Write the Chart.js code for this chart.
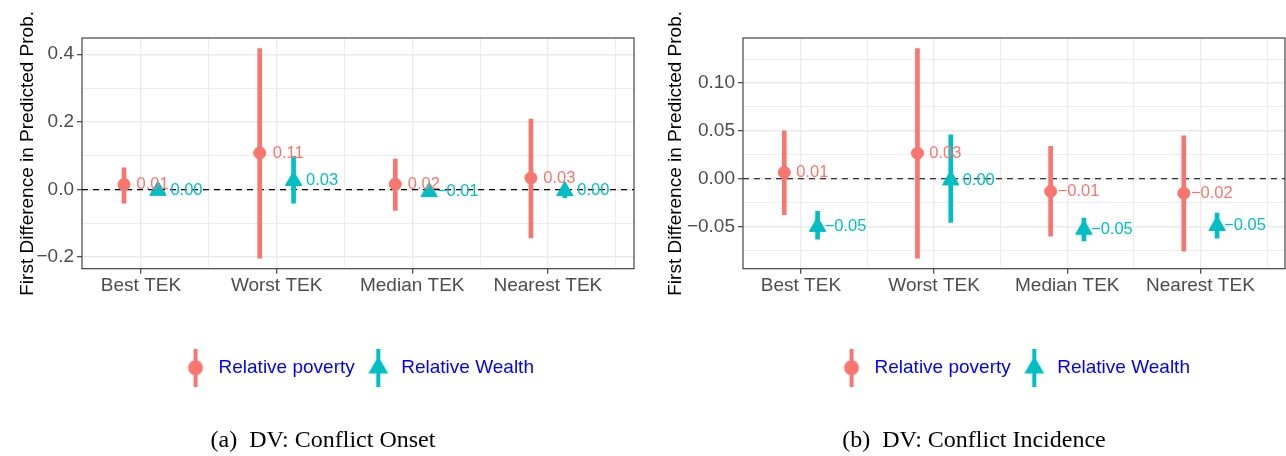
<!DOCTYPE html>
<html>
<head>
<meta charset="utf-8">
<script src="https://cdn.jsdelivr.net/npm/chart.js@4.4.1/dist/chart.umd.min.js"></script>
<style>
  body { margin: 0; background: #fff; overflow: hidden; }
  .wrap { display: flex; width: 1286px; height: 456px; }
  .panel { position: relative; width: 643px; height: 456px; flex: 0 0 643px; }
</style>
</head>
<body>
<div class="wrap">
  <div class="panel"><canvas id="onsetChart"></canvas></div>
  <div class="panel"><canvas id="incidenceChart"></canvas></div>
</div>
<script>
const categories = ['Best TEK', 'Worst TEK', 'Median TEK', 'Nearest TEK'];
const seriesNames = ['Relative poverty', 'Relative Wealth'];

// (a) DV: Conflict Onset
const onsetPoverty = [0.0147, 0.108, 0.016, 0.034];
const onsetPovertyLow = [-0.040, -0.203, -0.062, -0.143];
const onsetPovertyHigh = [0.064, 0.417, 0.090, 0.208];
const onsetWealth = [-0.003, 0.026, -0.007, -0.004];
const onsetWealthLow = [-0.012, -0.040, -0.018, -0.024];
const onsetWealthHigh = [0.006, 0.098, 0.003, 0.005];
const onsetYTicks = [-0.2, 0, 0.2, 0.4];
const onsetYTickLabels = ['\u22120.2', '0.0', '0.2', '0.4'];
const onsetYMinor = [-0.1, 0.1, 0.3];

// (b) DV: Conflict Incidence
const incidencePoverty = [0.0066, 0.0267, -0.0132, -0.0152];
const incidencePovertyLow = [-0.0375, -0.083, -0.060, -0.0757];
const incidencePovertyHigh = [0.050, 0.136, 0.0337, 0.0448];
const incidenceWealth = [-0.050, -0.0015, -0.053, -0.049];
const incidenceWealthLow = [-0.063, -0.0455, -0.065, -0.062];
const incidenceWealthHigh = [-0.034, 0.0458, -0.041, -0.036];
const incidenceYTicks = [-0.05, 0, 0.05, 0.10];
const incidenceYTickLabels = ['\u22120.05', '0.00', '0.05', '0.10'];
const incidenceYMinor = [-0.075, -0.025, 0.025, 0.075, 0.125];

const xMinor = [1.5, 2.5, 3.5, 4.5];

const povertyColor = '#F8766D';
const wealthColor = '#00BFC4';
const gridColor = '#EBEBEB';
const dodge = 0.125;
const labelNudge = 0.21;
const xMin = 0.565, xMax = 4.635;
const sans = '"Liberation Sans", Arial, sans-serif';

Chart.defaults.font.family = sans;

function fmt(v) {
    const s = Math.abs(v).toFixed(2);
    if (s === '0.00') return s;
    return v < 0 ? '\u2212' + s : s;
}

function legendGlyph(color, shape) {
    const c = document.createElement('canvas');
    c.width = 24;
    c.height = 38;
    const g = c.getContext('2d');
    g.fillStyle = color;
    g.fillRect(10, 0, 4, 38);
    g.beginPath();
    if (shape === 'circle') {
        g.arc(12, 19, 7.5, 0, Math.PI * 2);
    } else {
        const r = 11.5;
        g.moveTo(12, 19 - r);
        g.lineTo(12 + r * 0.866, 19 + r / 2);
        g.lineTo(12 - r * 0.866, 19 + r / 2);
        g.closePath();
    }
    g.fill();
    return c;
}

const glyphs = [legendGlyph(povertyColor, 'circle'), legendGlyph(wealthColor, 'triangle')];

function buildPanel(canvasId, cfg) {
    const ctx = document.getElementById(canvasId);
    if (!ctx) return;

    // ggplot style 5% expansion of the interval range
    const lo = Math.min(...cfg.povertyLow, ...cfg.wealthLow);
    const hi = Math.max(...cfg.povertyHigh, ...cfg.wealthHigh);
    const pad = (hi - lo) * 0.05;

    const series = [
        { values: cfg.poverty, color: povertyColor, shift: -dodge },
        { values: cfg.wealth, color: wealthColor, shift: dodge }
    ];

    const panelPlugin = {
        id: 'panelExtras',
        beforeDatasetsDraw(chart) {
            const { ctx, chartArea, scales } = chart;
            const y0 = scales.y.getPixelForValue(0);
            ctx.save();
            ctx.strokeStyle = '#000';
            ctx.lineWidth = 1.2;
            ctx.setLineDash([6, 5]);
            ctx.beginPath();
            ctx.moveTo(chartArea.left, y0);
            ctx.lineTo(chartArea.right, y0);
            ctx.stroke();
            ctx.restore();
        },
        afterDatasetsDraw(chart) {
            const { ctx, scales } = chart;
            ctx.save();
            ctx.font = '16.5px ' + sans;
            ctx.textAlign = 'center';
            ctx.textBaseline = 'middle';
            series.forEach(s => {
                ctx.fillStyle = s.color;
                s.values.forEach((v, i) => {
                    ctx.fillText(fmt(v), scales.x.getPixelForValue(i + 1 + s.shift + labelNudge), scales.y.getPixelForValue(v));
                });
            });
            ctx.restore();
        },
        afterDraw(chart) {
            const { ctx, chartArea } = chart;
            ctx.save();
            ctx.strokeStyle = '#333333';
            ctx.lineWidth = 1.1;
            ctx.strokeRect(chartArea.left, chartArea.top, chartArea.width, chartArea.height);
            ctx.restore();
        }
    };

    const minorAware = {
        color: gridColor,
        lineWidth: c => (c.tick && c.tick.minor ? 0.9 : 1.4),
        tickColor: c => (c.tick && c.tick.minor ? 'rgba(0,0,0,0)' : '#333333'),
        tickLength: 5,
        tickWidth: 1.1
    };

    new Chart(ctx, {
        type: 'scatter',
        data: {
            datasets: [
                {
                    label: seriesNames[0],
                    data: cfg.poverty.map((v, i) => ({ x: i + 1 - dodge, y: v })),
                    pointStyle: 'circle',
                    pointRadius: 6,
                    pointBorderWidth: 1,
                    pointBackgroundColor: povertyColor,
                    pointBorderColor: povertyColor,
                    order: 1
                },
                {
                    label: seriesNames[1],
                    data: cfg.wealth.map((v, i) => ({ x: i + 1 + dodge, y: v })),
                    pointStyle: 'triangle',
                    pointRadius: 9.5,
                    pointBorderWidth: 1,
                    pointBackgroundColor: wealthColor,
                    pointBorderColor: wealthColor,
                    order: 1
                },
                {
                    type: 'bar',
                    data: cfg.povertyLow.map((l, i) => ({ x: i + 1 - dodge, y: [l, cfg.povertyHigh[i]] })),
                    backgroundColor: povertyColor,
                    barThickness: 4,
                    maxBarThickness: 4,
                    grouped: false,
                    order: 2
                },
                {
                    type: 'bar',
                    data: cfg.wealthLow.map((l, i) => ({ x: i + 1 + dodge, y: [l, cfg.wealthHigh[i]] })),
                    backgroundColor: wealthColor,
                    barThickness: 4,
                    maxBarThickness: 4,
                    grouped: false,
                    order: 2
                }
            ]
        },
        options: {
            responsive: true,
            maintainAspectRatio: false,
            animation: false,
            events: [],
            layout: { padding: cfg.padding, autoPadding: false },
            scales: {
                x: {
                    type: 'linear',
                    min: xMin,
                    max: xMax,
                    offset: false,
                    border: { display: false },
                    grid: Object.assign({ offset: false }, minorAware),
                    afterBuildTicks: scale => {
                        scale.ticks = categories.map((c, i) => ({ value: i + 1 }))
                            .concat(xMinor.map(v => ({ value: v, minor: true })))
                            .sort((a, b) => a.value - b.value);
                    },
                    afterFit: scale => {
                        scale.height = 79.5;
                        scale.paddingLeft = 0;
                        scale.paddingRight = 0;
                    },
                    ticks: {
                        autoSkip: false,
                        maxRotation: 0,
                        minRotation: 0,
                        padding: 1,
                        color: '#4D4D4D',
                        font: { size: 19 },
                        callback: (value, index, ticks) => (ticks[index].minor ? '' : categories[Math.round(value) - 1])
                    }
                },
                y: {
                    type: 'linear',
                    min: lo - pad,
                    max: hi + pad,
                    border: { display: false },
                    grid: minorAware,
                    afterBuildTicks: scale => {
                        scale.ticks = cfg.yTicks.map(v => ({ value: v }))
                            .concat(cfg.yMinor.map(v => ({ value: v, minor: true })))
                            .sort((a, b) => a.value - b.value);
                    },
                    afterFit: scale => { scale.width = cfg.yAxisWidth; },
                    ticks: {
                        autoSkip: false,
                        padding: 3,
                        color: '#4D4D4D',
                        font: { size: 19 },
                        callback: (value, index, ticks) => (ticks[index].minor ? '' : cfg.yTickLabels[cfg.yTicks.indexOf(value)])
                    },
                    title: {
                        display: true,
                        text: 'First Difference in Predicted Prob.',
                        color: '#000',
                        font: { size: 19 },
                        padding: { top: cfg.yTitlePad, bottom: 0 }
                    }
                }
            },
            plugins: {
                tooltip: { enabled: false },
                legend: {
                    position: 'bottom',
                    fullSize: false,
                    labels: {
                        usePointStyle: true,
                        pointStyleWidth: 27,
                        padding: 10,
                        color: '#0000FF',
                        font: { size: 19 },
                        generateLabels: () => seriesNames.map((name, i) => ({
                            text: name,
                            pointStyle: glyphs[i],
                            fillStyle: i === 0 ? povertyColor : wealthColor,
                            strokeStyle: i === 0 ? povertyColor : wealthColor,
                            fontColor: '#0000FF',
                            lineWidth: 0,
                            hidden: false,
                            datasetIndex: i
                        }))
                    }
                },
                title: {
                    display: true,
                    position: 'bottom',
                    text: cfg.caption,
                    color: '#000',
                    font: { family: '"Liberation Serif", "Times New Roman", serif', size: 24, weight: 'normal' },
                    padding: { top: 39, bottom: 1 }
                }
            }
        },
        plugins: [panelPlugin]
    });
}

buildPanel('onsetChart', {
    poverty: onsetPoverty, povertyLow: onsetPovertyLow, povertyHigh: onsetPovertyHigh,
    wealth: onsetWealth, wealthLow: onsetWealthLow, wealthHigh: onsetWealthHigh,
    yTicks: onsetYTicks, yTickLabels: onsetYTickLabels, yMinor: onsetYMinor,
    caption: '(a)  DV: Conflict Onset',
    padding: { top: 38, left: 12, right: 9, bottom: 0 },
    yAxisWidth: 70,
    yTitlePad: 4
});

buildPanel('incidenceChart', {
    poverty: incidencePoverty, povertyLow: incidencePovertyLow, povertyHigh: incidencePovertyHigh,
    wealth: incidenceWealth, wealthLow: incidenceWealthLow, wealthHigh: incidenceWealthHigh,
    yTicks: incidenceYTicks, yTickLabels: incidenceYTickLabels, yMinor: incidenceYMinor,
    caption: '(b)  DV: Conflict Incidence',
    padding: { top: 38, left: 20, right: 1, bottom: 0 },
    yAxisWidth: 80,
    yTitlePad: 1
});
</script>
</body>
</html>
